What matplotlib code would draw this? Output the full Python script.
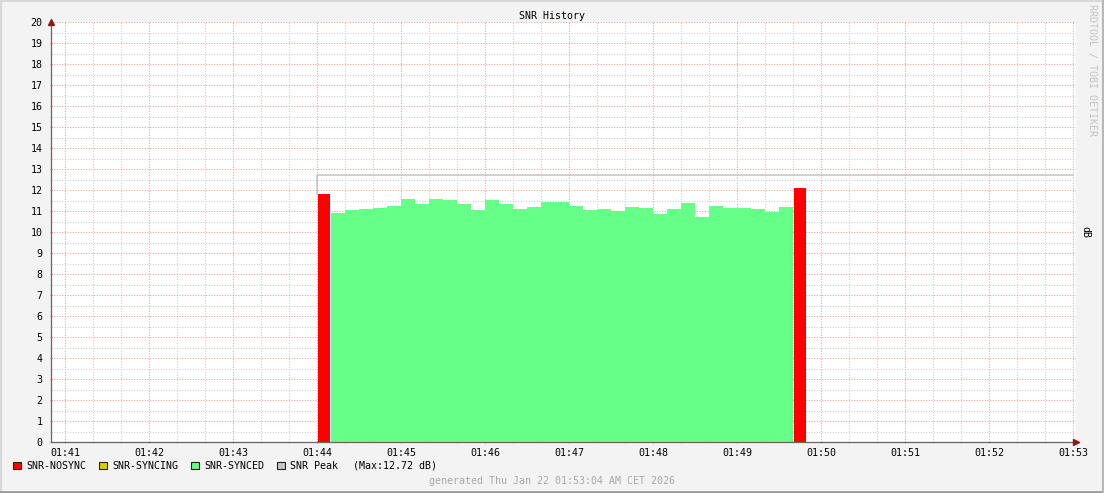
import matplotlib
matplotlib.use('Agg')
import matplotlib.pyplot as plt
from matplotlib.patches import Rectangle
from matplotlib.lines import Line2D
import numpy as np

### Data (time in seconds after 01:40:00, SNR in dB)
step = 10
nosync_times = [240, 580]
nosync_snr = [11.82, 12.10]
synced_start = 250
synced_snr = [10.90, 11.03, 11.08, 11.14, 11.24, 11.56, 11.33, 11.56, 11.51, 11.33,
              11.03, 11.51, 11.33, 11.08, 11.19, 11.43, 11.43, 11.24, 11.05, 11.08,
              10.98, 11.19, 11.14, 10.86, 11.08, 11.38, 10.71, 11.24, 11.14, 11.14,
              11.08, 10.95, 11.19]
peak_snr = 12.72
peak_start, peak_end = 240, 780
tick_seconds = [60 * k for k in range(1, 14)]
tick_labels = ['01:41', '01:42', '01:43', '01:44', '01:45', '01:46', '01:47',
               '01:48', '01:49', '01:50', '01:51', '01:52', '01:53']
legend_names = ['SNR-NOSYNC', 'SNR-SYNCING', 'SNR-SYNCED', 'SNR Peak']
legend_colors = ['#FF0000', '#DDCC00', '#66FF88', '#C8C8C8']

W, H = 1104, 493
mono = 'DejaVu Sans Mono'
fs = 7.2

fig = plt.figure(figsize=(W / 100, H / 100), dpi=100)
fig.patch.set_facecolor('#F3F3F3')
ax = fig.add_axes([51 / W, 51 / H, 1025 / W, 420 / H])
ax.set_facecolor('white')

### Grid
ax.set_xlim(50, 782)
ax.set_ylim(0, 20)
ax.set_xticks(tick_seconds)
ax.set_xticklabels(tick_labels, fontfamily=mono, fontsize=fs)
ax.set_xticks(np.arange(60, 781, 20), minor=True)
ax.set_yticks(range(0, 21))
ax.set_yticklabels([str(v) for v in range(0, 21)], fontfamily=mono, fontsize=fs)
ax.set_yticks(np.arange(0.5, 20, 1), minor=True)
ax.grid(which='minor', color='#D0D0D0', linestyle=(0, (1, 1.4)), linewidth=0.8)
ax.grid(which='major', color='#F0A0A0', linestyle=(0, (1, 1.4)), linewidth=0.8)
ax.set_axisbelow(True)
ax.tick_params(which='major', length=2, color='#E08080', direction='inout', pad=3)
ax.tick_params(which='minor', length=2, color='#BBBBBB', direction='inout')
ax.tick_params(axis='y', which='major', pad=5)
for s in ['top', 'right']:
    ax.spines[s].set_visible(False)
for s in ['left', 'bottom']:
    ax.spines[s].set_color('#666666')
    ax.spines[s].set_linewidth(0.9)

### Data areas
synced_times = synced_start + step * np.arange(len(synced_snr) + 1)
ax.fill_between(synced_times, synced_snr + [synced_snr[-1]], step='post',
                color='#66FF88', linewidth=0, zorder=2)
ax.bar(np.array(nosync_times) + 0.5, nosync_snr, width=step - 1, align='edge',
       color='#FF0000', linewidth=0, zorder=3)
ax.plot([peak_start, peak_start, peak_end], [nosync_snr[0], peak_snr, peak_snr],
        color='#C4C4C4', linewidth=1.1, zorder=2)

### Axis arrows
ax.plot([1], [0], marker='>', color='#8B1A1A', markersize=4, transform=ax.transAxes,
        clip_on=False, zorder=5)
ax.plot([0], [1], marker='^', color='#8B1A1A', markersize=4, transform=ax.transAxes,
        clip_on=False, zorder=5)
ax.spines['bottom'].set_bounds(50, 784)

### Texts
fig.text(552 / W, 1 - 16 / H, 'SNR History', ha='center', va='center',
         fontfamily=mono, fontsize=fs)
fig.text(1092 / W, 1 - 4 / H, 'RRDTOOL / TOBI OETIKER', ha='center', va='top',
         rotation=270, fontfamily=mono, fontsize=fs, color='#C4C4C4')
fig.text(1085 / W, 1 - 232 / H, 'dB', ha='center', va='center', rotation=270,
         fontfamily=mono, fontsize=fs)

### Legend
text_x = [26, 112, 204, 290]
for name, col, x in zip(legend_names, legend_colors, text_x):
    fig.patches.append(Rectangle(((x - 13) / W, 1 - 469 / H), 7.5 / W, 7 / H,
                                 transform=fig.transFigure, facecolor=col,
                                 edgecolor='#222222', linewidth=0.8))
    fig.text(x / W, 1 - 466 / H, name, ha='left', va='center',
             fontfamily=mono, fontsize=fs)
fig.text(353 / W, 1 - 466 / H, '(Max:%.2f dB)' % peak_snr, ha='left', va='center',
         fontfamily=mono, fontsize=fs)
fig.text(552 / W, 1 - 481 / H, 'generated Thu Jan 22 01:53:04 AM CET 2026',
         ha='center', va='center', fontfamily=mono, fontsize=fs, color='#A8A8A8')

### Frame
fig.lines.append(Line2D([0, 1], [1 - 1 / H, 1 - 1 / H], transform=fig.transFigure,
                        color='#D8D8D8', linewidth=1.5))
fig.lines.append(Line2D([1 / W, 1 / W], [0, 1], transform=fig.transFigure,
                        color='#D8D8D8', linewidth=1.5))
fig.lines.append(Line2D([0, 1], [1.2 / H, 1.2 / H], transform=fig.transFigure,
                        color='#9C9C9C', linewidth=2))
fig.lines.append(Line2D([1 - 1 / W, 1 - 1 / W], [0, 1], transform=fig.transFigure,
                        color='#B8B8B8', linewidth=1.5))

fig.savefig('out.png', dpi=100, facecolor=fig.get_facecolor())
